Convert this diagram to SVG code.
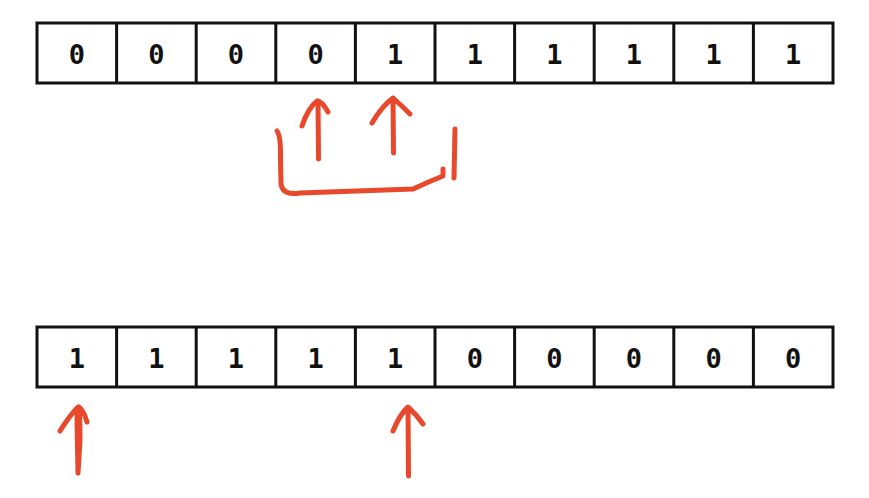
<svg xmlns="http://www.w3.org/2000/svg" width="869" height="498" viewBox="0 0 869 498">
<style>
.cell{fill:#fff;stroke:#111;stroke-width:3}
.t{font-family:"DejaVu Sans Mono",monospace;font-weight:bold;font-size:27px;text-anchor:middle;fill:#111}
.pen{fill:none;stroke:#E8482C;stroke-width:5;stroke-linecap:round;stroke-linejoin:round}
</style>
<rect width="869" height="498" fill="#fff"/>
<g id="top-array">
<rect class="cell" x="37" y="23" width="796" height="60"/>
<path class="cell" d="M116.6 23V83M196.2 23V83M275.8 23V83M355.4 23V83M435 23V83M514.6 23V83M594.2 23V83M673.8 23V83M753.4 23V83"/>
<text class="t" x="76.8" y="64">0</text>
<text class="t" x="156.4" y="64">0</text>
<text class="t" x="236" y="64">0</text>
<text class="t" x="315.6" y="64">0</text>
<text class="t" x="395.2" y="64">1</text>
<text class="t" x="474.8" y="64">1</text>
<text class="t" x="554.4" y="64">1</text>
<text class="t" x="634" y="64">1</text>
<text class="t" x="713.6" y="64">1</text>
<text class="t" x="793.2" y="64">1</text>
</g>
<g id="bottom-array">
<rect class="cell" x="37" y="327" width="796" height="60"/>
<path class="cell" d="M116.6 327V387M196.2 327V387M275.8 327V387M355.4 327V387M435 327V387M514.6 327V387M594.2 327V387M673.8 327V387M753.4 327V387"/>
<text class="t" x="76.8" y="368">1</text>
<text class="t" x="156.4" y="368">1</text>
<text class="t" x="236" y="368">1</text>
<text class="t" x="315.6" y="368">1</text>
<text class="t" x="395.2" y="368">1</text>
<text class="t" x="474.8" y="368">0</text>
<text class="t" x="554.4" y="368">0</text>
<text class="t" x="634" y="368">0</text>
<text class="t" x="713.6" y="368">0</text>
<text class="t" x="793.2" y="368">0</text>
</g>
<g id="connectors">
<path class="pen" d="M318.5 159 L318 101 M302 126 Q308 108 317 101 Q322 101 328 112"/>
<path class="pen" d="M393.5 153 L393 98 M372 123 Q382 106 393 98 Q402 106 410 114"/>
<path class="pen" d="M277 131 Q281 136 280.5 160 L281 184 Q283 196 300 193 L413 189 Q428 182 443 176 L443 169"/>
<path class="pen" d="M455 129 L454 178"/>
<path class="pen" d="M78 473 L77 420 Q77 410 79 407 Q80 415 80 440 L78 473 M60 431 Q70 415 78 407 Q83 408 87 422"/>
<path class="pen" d="M408.5 476 L408 408 M393 431 Q400 414 408 407 Q416 414 423 424"/>
</g>
</svg>
